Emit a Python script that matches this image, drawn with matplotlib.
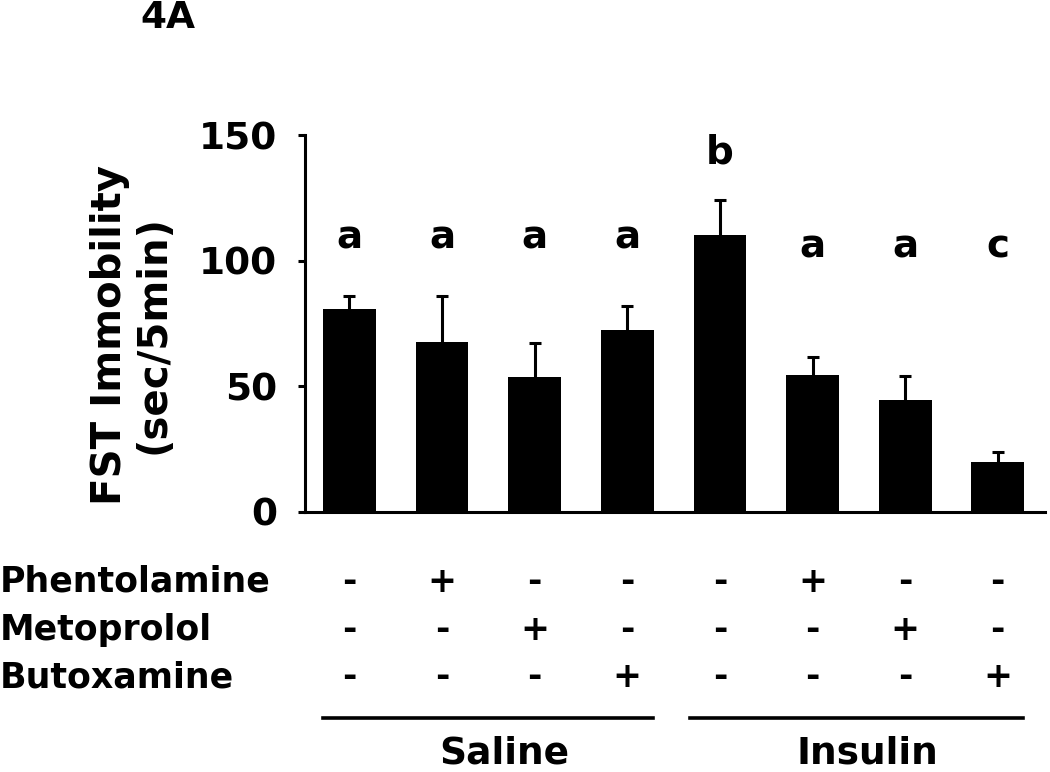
import matplotlib
matplotlib.use("Agg")
import matplotlib.pyplot as plt
import matplotlib.transforms as mtransforms

# ---- data ----
means = [80.6, 67.7, 53.8, 72.3, 110.1, 54.6, 44.7, 19.7]
sems = [5.3, 18.2, 13.6, 9.7, 14.2, 7.2, 9.4, 4.2]
letters = ["a", "a", "a", "a", "b", "a", "a", "c"]
letter_y = [104.9, 104.9, 104.9, 104.9, 138.7, 101.4, 101.4, 101.4]
phentolamine = ["-", "+", "-", "-", "-", "+", "-", "-"]
metoprolol = ["-", "-", "+", "-", "-", "-", "+", "-"]
butoxamine = ["-", "-", "-", "+", "-", "-", "-", "+"]
row_names = ["Phentolamine", "Metoprolol", "Butoxamine"]
groups = ["Saline", "Insulin"]
yticks = [0, 50, 100, 150]

plt.rcParams['font.family'] = ['DejaVu Sans']
plt.rcParams['font.weight'] = 'bold'

W, H = 1050, 772
fig = plt.figure(figsize=(W / 100, H / 100), dpi=100)
ax = fig.add_axes([305 / W, 1 - 512 / H, (1045 - 305) / W, (512 - 135) / H])

x = list(range(len(means)))
ax.bar(x, means, width=0.57, color='black', zorder=2)
_, caps, _ = ax.errorbar(x, means, yerr=[[0] * len(sems), sems], fmt='none',
                         ecolor='black', elinewidth=2.2, capsize=4.5, capthick=2.2,
                         zorder=1)
if len(caps) == 2:
    caps[0].set_visible(False)

for xi, lab, ly in zip(x, letters, letter_y):
    ax.text(xi, ly, lab, ha='center', va='baseline', fontsize=28, fontweight='bold')

ax.set_xlim(-0.48, 7.51)
ax.set_ylim(0, 150)
ax.set_yticks(yticks)
ax.set_yticklabels([str(t) for t in yticks], fontsize=27, fontweight='bold')
ax.set_xticks([])
for s in ['top', 'right']:
    ax.spines[s].set_visible(False)
for s in ['left', 'bottom']:
    ax.spines[s].set_linewidth(2.2)
ax.tick_params(axis='y', length=5, width=2.2, pad=15)

# y label
fig.text(110 / W, 1 - 335 / H, "FST Immobility", rotation=90, ha='center', va='center',
         fontsize=29, fontweight='bold')
fig.text(153 / W, 1 - 335 / H, "(sec/5min)", rotation=90, ha='center', va='center',
         fontsize=29, fontweight='bold')

# title
fig.text(140 / W, 1 - 28 / H, "4A", ha='left', va='baseline', fontsize=27, fontweight='bold')

# treatment table
trans = mtransforms.blended_transform_factory(ax.transData, fig.transFigure)
rows = [phentolamine, metoprolol, butoxamine]
baselines = [592, 640, 687]
for name, row, by in zip(row_names, rows, baselines):
    fig.text(0, 1 - by / H, name, ha='left', va='baseline', fontsize=25, fontweight='bold')
    for xi, sgn in zip(x, row):
        ax.text(xi, 1 - by / H, sgn, transform=trans, ha='center', va='baseline',
                fontsize=25, fontweight='bold', clip_on=False)

# group lines and labels
line_spans = [(-0.289, 3.278), (3.677, 7.273)]
label_x = [1.668, 5.594]
for (x0, x1), g, lx in zip(line_spans, groups, label_x):
    ax.plot([x0, x1], [1 - 718 / H] * 2, transform=trans, color='black', lw=2.6,
            clip_on=False)
    ax.text(lx, 1 - 754 / H, g, transform=trans, ha='center', va='center',
            fontsize=27, fontweight='bold', clip_on=False)

fig.savefig("out.png", dpi=100)
